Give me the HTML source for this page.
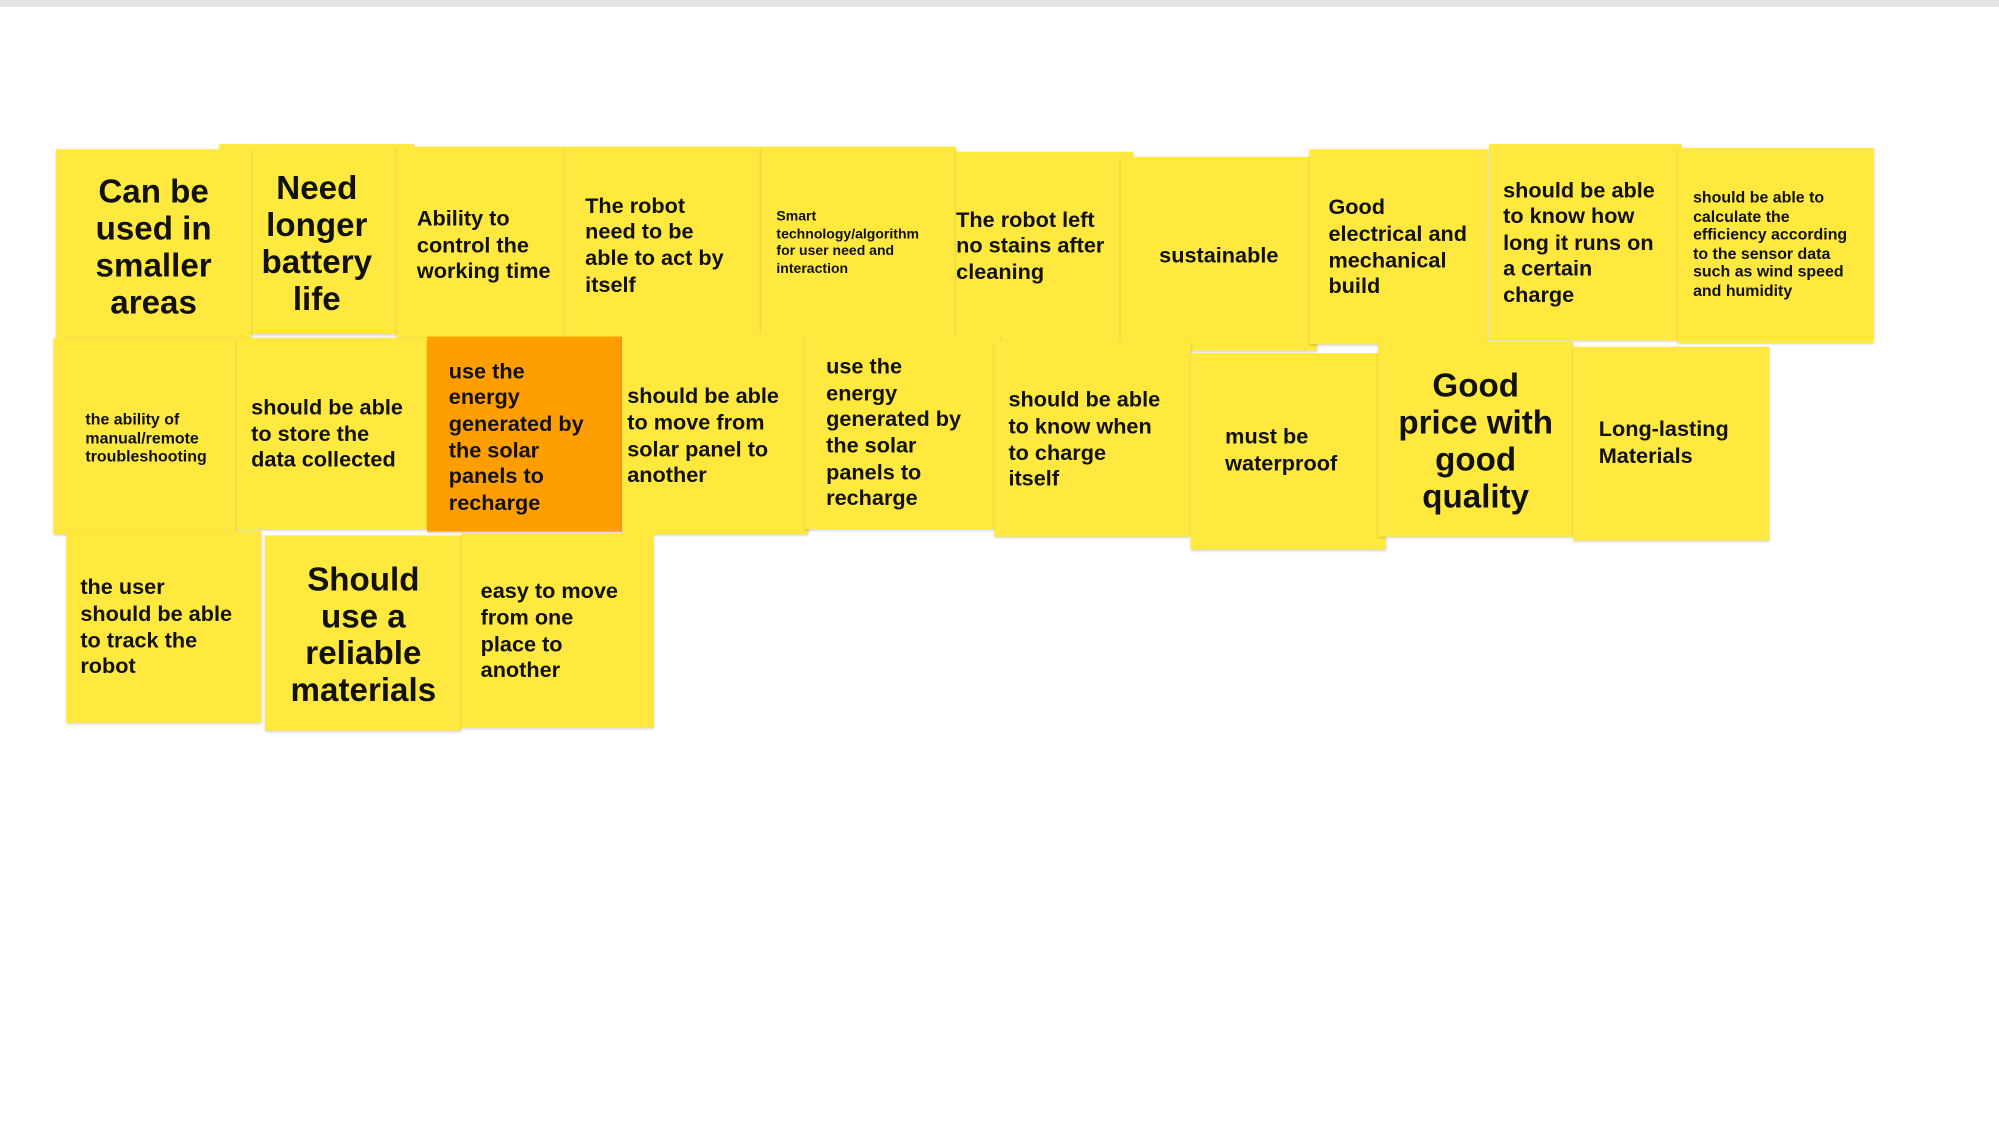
<!DOCTYPE html>
<html><head><meta charset="utf-8"><style>
html,body{margin:0;padding:0;background:#fff;width:1999px;height:1126px;overflow:hidden}
#top{position:absolute;left:0;top:0;width:1999px;height:7px;background:#e4e4e6}
#board{position:absolute;left:0;top:0;width:1568px;height:883px;transform:scale(1.2749);transform-origin:0 0}
.n{position:absolute;background:#ffe93f;box-shadow:0 1px 2px rgba(0,0,0,.18);display:flex;align-items:center;box-sizing:border-box;font-family:"Liberation Sans",sans-serif;font-weight:bold;color:#111;font-size:17px;line-height:20.6px;padding-top:6px}
.c{justify-content:center;text-align:center}
.big{font-size:26px;line-height:29px}
.o{background:#ff9e00}
</style></head><body>
<div id="top"></div>
<div id="board">
<div class="n big c" style="left:172px;top:113px;width:153px;height:149px">Need<br>longer<br>battery<br>life</div>
<div class="n big c" style="left:44px;top:117px;width:153px;height:148px">Can be<br>used in<br>smaller<br>areas</div>
<div class="n" style="left:311px;top:115px;width:134px;height:150px;padding-left:16px;white-space:nowrap;overflow:hidden">Ability to<br>control the<br>working time</div>
<div class="n" style="left:443px;top:115px;width:155px;height:150px;padding-left:16px">The robot<br>need to be<br>able to act by<br>itself</div>
<div class="n" style="left:597px;top:115px;width:153px;height:150px;padding-left:12px;font-size:11px;line-height:13.5px;padding-bottom:4px">Smart<br>technology/algorithm<br>for user need and<br>interaction</div>
<div class="n" style="left:750px;top:119px;width:139px;height:151px;padding-left:0;padding-bottom:8px">The robot left<br>no stains after<br>cleaning</div>
<div class="n c" style="left:879px;top:123px;width:154px;height:152px;padding-bottom:2px">sustainable</div>
<div class="n" style="left:1027px;top:117px;width:140px;height:153px;padding-left:15px;white-space:nowrap;padding-bottom:4px">Good<br>electrical and<br>mechanical<br>build</div>
<div class="n" style="left:1168px;top:113px;width:151px;height:154px;padding-left:11px;padding-bottom:4px">should be able<br>to know how<br>long it runs on<br>a certain<br>charge</div>
<div class="n" style="left:1316px;top:116px;width:154px;height:153px;padding-left:12px;font-size:12.5px;line-height:14.5px;padding-bottom:8px">should be able to<br>calculate the<br>efficiency according<br>to the sensor data<br>such as wind speed<br>and humidity</div>

<div class="n" style="left:42px;top:265px;width:144px;height:154px;padding-left:25px;font-size:12.5px;line-height:14.5px;padding-bottom:2px">the ability of<br>manual/remote<br>troubleshooting</div>
<div class="n" style="left:186px;top:265px;width:149px;height:150px;padding-left:11px;padding-bottom:4px">should be able<br>to store the<br>data collected</div>
<div class="n o" style="left:335px;top:264px;width:153px;height:153px;padding-left:17px">use the<br>energy<br>generated by<br>the solar<br>panels to<br>recharge</div>
<div class="n" style="left:488px;top:262px;width:146px;height:157px;padding-left:4px;padding-bottom:2px">should be able<br>to move from<br>solar panel to<br>another</div>
<div class="n" style="left:631px;top:262px;width:154px;height:153px;padding-left:17px;padding-bottom:3px">use the<br>energy<br>generated by<br>the solar<br>panels to<br>recharge</div>
<div class="n" style="left:780px;top:268px;width:154px;height:153px;padding-left:11px;padding-bottom:4px">should be able<br>to know when<br>to charge<br>itself</div>
<div class="n" style="left:934px;top:277px;width:153px;height:154px;padding-left:27px;padding-bottom:6px">must be<br>waterproof</div>
<div class="n big c" style="left:1081px;top:268px;width:153px;height:153px;padding-bottom:4px">Good<br>price with<br>good<br>quality</div>
<div class="n" style="left:1234px;top:272px;width:154px;height:152px;padding-left:20px;padding-bottom:6px">Long-lasting<br>Materials</div>

<div class="n" style="left:52px;top:416px;width:153px;height:151px;padding-left:11px;padding-bottom:4px">the user<br>should be able<br>to track the<br>robot</div>
<div class="n big c" style="left:208px;top:420px;width:154px;height:153px;padding-bottom:4px">Should<br>use a<br>reliable<br>materials</div>
<div class="n" style="left:362px;top:418px;width:151px;height:153px;padding-left:15px;padding-bottom:4px">easy to move<br>from one<br>place to<br>another</div>
</div>
</body></html>
